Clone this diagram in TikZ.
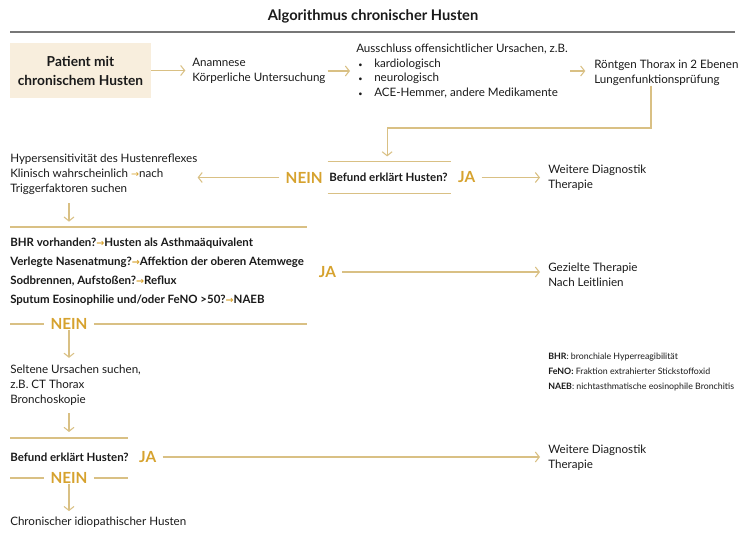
\documentclass[tikz,border=0pt]{standalone}
\usepackage{fontspec}
\setmainfont{Lato}
\newfontfamily\symbfont{DejaVu Sans}
\usepackage{xcolor}
\usetikzlibrary{arrows.meta,positioning}
\definecolor{flowgold}{HTML}{D9C084}
\definecolor{answergold}{HTML}{D6A22E}
\definecolor{patientbg}{HTML}{F8EEDD}
\definecolor{rulegray}{HTML}{777777}
\definecolor{textblack}{HTML}{1A1A1A}
\newcommand{\inarr}{{\color{answergold}\symbfont\fontsize{7.2}{7}\selectfont→}}
\newcommand{\smallbullet}{\makebox[13.5pt][l]{\hspace{1.5pt}{\fontsize{5.5}{5}\selectfont\textbullet}}}
\tikzset{
    flow color/.style={flowgold},
    flow line/.style={flow color,line width=0.8pt},
    arr/.style={->,>={Straight Barb[length=3pt,width=7.5pt]},flow line},
    answer/.style={answergold,font=\bfseries\fontsize{11.5}{13}\selectfont,inner xsep=4.5pt,inner ysep=0pt},
    txt/.style={anchor=west,align=left,inner sep=0pt,text=textblack,font=\fontsize{8.7}{11.2}\selectfont},
    question/.style={txt,font=\bfseries\fontsize{8.6}{11.2}\selectfont},
    checklist/.style={txt,font=\bfseries\fontsize{8.6}{14.25}\selectfont},
    legend/.style={txt,font=\fontsize{6.6}{10.9}\selectfont},
    patient/.style={fill=patientbg,minimum width=105.75pt,minimum height=41.25pt,align=center,text=textblack,font=\bfseries\fontsize{10.3}{14.2}\selectfont},
}

\begin{document}
\begin{tikzpicture}[x=0.75pt,y=-0.75pt]
    \useasboundingbox (0,0) rectangle (746,534);
    \node[text=textblack,font=\bfseries\fontsize{11}{13}\selectfont] (title) at (373,16) {Algorithmus chronischer Husten};
    \draw[rulegray,line width=0.8pt] (10,32) -- (735,32);

    % top row
    \node[patient] (patient) at (80.5,70.5) {Patient mit\\chronischem Husten};
    \node[txt] (anamnese) at (192,71) {Anamnese\\Körperliche Untersuchung};
    \node[txt] (ausschluss) at (356,71) {Ausschluss offensichtlicher Ursachen, z.B.\\
        \smallbullet kardiologisch\\
        \smallbullet neurologisch\\
        \smallbullet ACE-Hemmer, andere Medikamente};
    \node[txt] (roentgen) at (594,72.5) {Röntgen Thorax in 2 Ebenen\\Lungenfunktionsprüfung};
    \draw[arr,shorten >=5pt] (patient.east) -- (patient.east -| anamnese.west);
    \draw[arr,shorten <=1.5pt,shorten >=4.5pt] (anamnese.east) -- (anamnese.east -| ausschluss.west);
    \draw[arr,shorten <=1.5pt,shorten >=6.5pt] (ausschluss.east) -- (ausschluss.east -| roentgen.west);

    % first question
    \node[question,minimum height=23.25pt] (befund1) at (329,177.5) {Befund erklärt Husten?};
    \draw[flow line] ([xshift=-1pt]befund1.north west) -- ([xshift=2pt]befund1.north east)
        ([xshift=-1pt]befund1.south west) -- ([xshift=2pt]befund1.south east);
    \coordinate (turn1) at (651,128);
    \draw[arr,shorten >=4pt] (roentgen.south -| turn1) -- (turn1) -| ([xshift=-1pt]befund1.north);
    \node[answer,anchor=east] (nein1) at (befund1.west) {NEIN};
    \node[answer,anchor=west] (ja1) at ([xshift=3pt]befund1.east) {JA};
    \node[txt] (hyper) at (10,174.5) {Hypersensitivität des Hustenreflexes\\Klinisch wahrscheinlich \inarr nach\\Triggerfaktoren suchen};
    \node[txt] (weiter1) at (548,178) {Weitere Diagnostik\\Therapie};
    \draw[arr] (nein1.west) -- (nein1.west -| hyper.east);
    \draw[arr,shorten >=6pt] (ja1.east) -- (ja1.east -| weiter1.west);

    % checks
    \coordinate (main) at (69,227);
    \node[checklist] (checks) at (10,271.5) {BHR vorhanden?\inarr Husten als Asthmaäquivalent\\
        Verlegte Nasenatmung?\inarr Affektion der oberen Atemwege\\
        Sodbrennen, Aufstoßen?\inarr Reflux\\
        Sputum Eosinophilie und/oder FeNO >50?\inarr NAEB};
    \draw[flow line] (10,227) -- (307,227);
    \draw[arr,shorten <=6pt,shorten >=4pt] (hyper.south -| main) -- (main);
    \node[answer] (nein2) at (69,324) {NEIN};
    \draw[flow line] (10,324) -- (nein2) -- (307,324);
    \node[answer] (ja2) at (327.5,272) {JA};
    \node[txt] (gezielt) at (548,275) {Gezielte Therapie\\Nach Leitlinien};
    \draw[arr,shorten >=6pt] (ja2.east) -- (ja2.east -| gezielt.west);

    % rare causes
    \node[txt] (selten) at (10,385) {Seltene Ursachen suchen,\\z.B. CT Thorax\\Bronchoskopie};
    \draw[arr,shorten >=5pt] (nein2) -- (nein2 |- selten.north);
    \coordinate (rule2) at (69,438);
    \draw[flow line] (10,438) -- (128,438);
    \draw[arr,shorten <=6pt,shorten >=4.5pt] (selten.south -| rule2) -- (rule2);

    % second question
    \node[question] (befund2) at (10,457) {Befund erklärt Husten?};
    \node[answer,anchor=west] (ja3) at ([xshift=3pt]befund2.east) {JA};
    \node[txt] (weiter2) at (548,458) {Weitere Diagnostik\\Therapie};
    \draw[arr,shorten >=6pt] (ja3.east) -- (ja3.east -| weiter2.west);
    \node[answer] (nein3) at (69,478) {NEIN};
    \draw[flow line] (10,478) -- (nein3) -- (128,478);
    \node[txt] (idio) at (10,522) {Chronischer idiopathischer Husten};
    \draw[arr,shorten >=4pt] (nein3) -- (nein3 |- idio.north);

    % abbreviations
    \node[legend] (abbrev) at (548,372) {\textbf{BHR}: bronchiale Hyperreagibilität\\
        \textbf{FeNO:} Fraktion extrahierter Stickstoffoxid\\
        \textbf{NAEB}: nichtasthmatische eosinophile Bronchitis};
\end{tikzpicture}
\end{document}
